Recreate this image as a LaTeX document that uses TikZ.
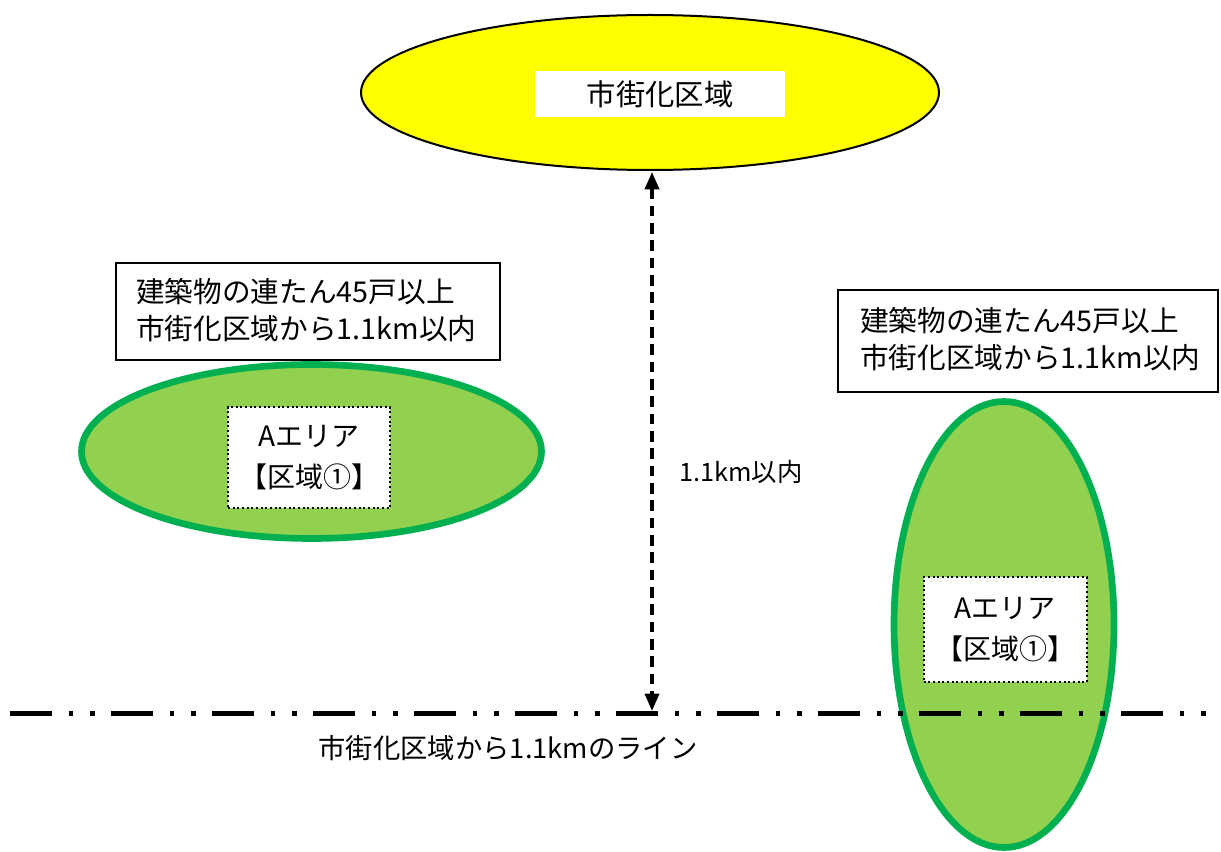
\documentclass[tikz,border=0pt]{standalone}
\usepackage{fontspec}
\setmainfont{Noto Sans CJK JP}
\usetikzlibrary{arrows.meta}
\definecolor{lgreen}{RGB}{146,208,80}
\definecolor{dgreen}{RGB}{0,176,80}
\definecolor{yel}{RGB}{255,255,0}
\begin{document}
\begin{tikzpicture}[x=0.75pt,y=-0.75pt,
  area/.style={fill=lgreen,draw=dgreen,line width=5pt},
  infobox/.style={draw=black,line width=1.5pt,fill=white,inner sep=0pt},
  infotext/.style={align=left,inner sep=0pt,anchor=west,font=\fontsize{21.5}{27.75}\selectfont},
  zonebox/.style={draw=black,line width=1.5pt,dotted,fill=white,align=center,
     font=\fontsize{21}{31}\selectfont},
  lbl/.style={inner sep=0pt}]
\useasboundingbox (0,0) rectangle (1221,852);
% market area
\draw[fill=yel,draw=black,line width=1.5pt] (650,92.5) ellipse [x radius=289,y radius=77.5];
\node[fill=white,minimum width=250*0.75pt,minimum height=46*0.75pt,inner sep=0pt,
  font=\fontsize{22}{24}\selectfont] (city) at (660,94) {市街化区域};
% left area
\draw[area] (311.5,451.5) ellipse [x radius=230,y radius=87];
\node[zonebox,minimum width=162*0.75pt,minimum height=101*0.75pt] (zl) at (309,457.5) {Aエリア\\【区域①】};
\node[infobox,minimum width=384*0.75pt,minimum height=97*0.75pt] (bl) at (308,311.5) {};
\node[infotext] (blt) at (136,310) {建築物の連たん45戸以上\\市街化区域から1.1km以内};
% right area
\draw[area] (1004,624.5) ellipse [x radius=110,y radius=223];
\node[zonebox,minimum width=163*0.75pt,minimum height=105*0.75pt] (zr) at (1005,629.5) {Aエリア\\【区域①】};
\node[infobox,minimum width=380*0.75pt,minimum height=102*0.75pt] (br) at (1028,341) {};
\node[infotext] (brt) at (860,339) {建築物の連たん45戸以上\\市街化区域から1.1km以内};
% 1.1 km line
\coordinate (ls) at (10,713.5);
\coordinate (le) at (1221,713.5);
\coordinate (at) at (652,172);
\coordinate (ab) at (652,711);
\draw[line width=3.75pt,dash pattern=on 31.5pt off 12.75pt on 3pt off 12.75pt on 3.75pt off 12pt] (ls) -- (le);
\draw[line width=2.6pt,dash pattern=on 8pt off 5pt,{Triangle[width=10.5pt,length=13pt]}-{Triangle[width=10.5pt,length=13pt]}] (at) -- (ab);
\node[lbl,font=\fontsize{19}{22}\selectfont,anchor=west] (dist) at (679,472) {1.1km以内};
\node[lbl,font=\fontsize{20.5}{24}\selectfont] (linelbl) at (508,748) {市街化区域から1.1kmのライン};
\end{tikzpicture}
\end{document}
